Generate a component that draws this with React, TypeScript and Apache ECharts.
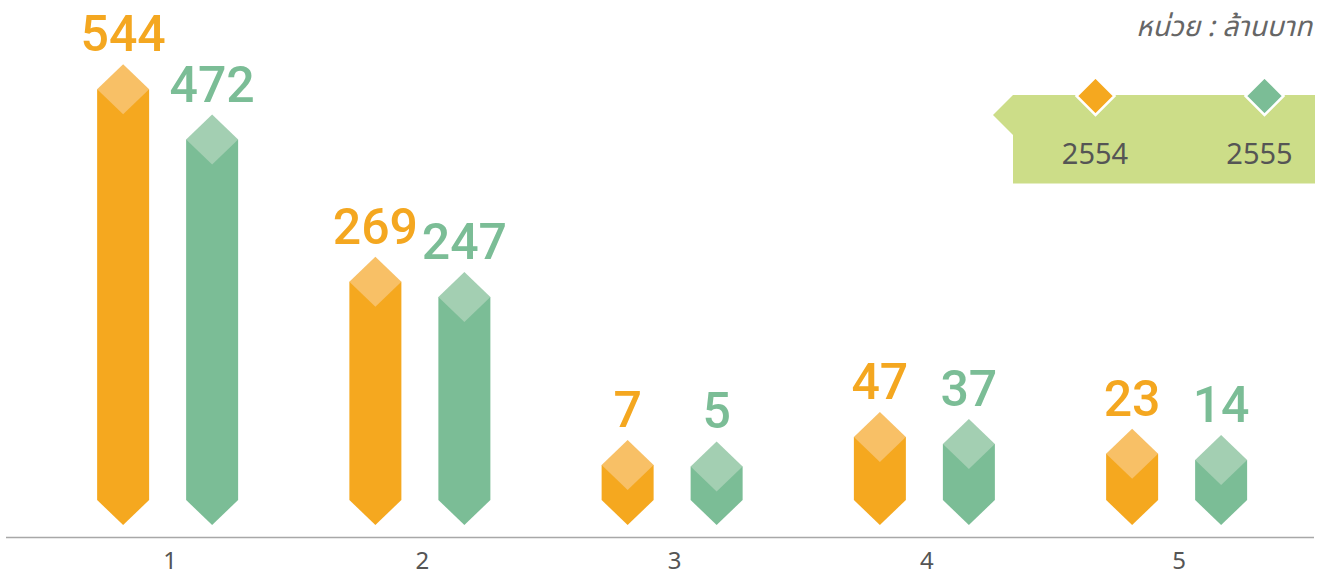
import React, { useEffect, useRef } from "react";
import * as echarts from "echarts";

const categories = ["1", "2", "3", "4", "5"];
const seriesNames = ["2554", "2555"];
const values2554 = [544, 269, 7, 47, 23];
const values2555 = [472, 247, 5, 37, 14];
const unitText = "หน่วย : ล้านบาท";

const Y_MIN = -43;
const Y_MAX = 600;

const BODY = ["#F5A81F", "#7BBD96"];
const TOP = ["#F8C066", "#A3CFB2"];
const LABEL = ["#F4A720", "#7BBD96"];

export default function App() {
  const ref = useRef<HTMLDivElement>(null);
  useEffect(() => {
    if (!ref.current) return;
    const chart = echarts.init(ref.current, undefined, { renderer: "svg" });
    const HW = 26;
    const OFF = 44.5;
    const renderItem = (params: any, api: any) => {
      const si = params.seriesIndex;
      const idx = api.value(0);
      const v = api.value(1);
      const p = api.coord([idx, v]);
      const base = api.coord([idx, Y_MIN]);
      const cx = p[0] + (si === 0 ? -OFF : OFF);
      const yTop = p[1];
      const yBase = base[1];
      return {
        type: "group",
        children: [
          {
            type: "polygon",
            shape: {
              points: [
                [cx - HW, yTop],
                [cx + HW, yTop],
                [cx + HW, yBase],
                [cx, yBase + 25],
                [cx - HW, yBase],
              ],
            },
            style: { fill: BODY[si] },
          },
          {
            type: "polygon",
            shape: {
              points: [
                [cx, yTop - 25],
                [cx + HW, yTop],
                [cx, yTop + 25],
                [cx - HW, yTop],
              ],
            },
            style: { fill: TOP[si] },
          },
          {
            type: "text",
            style: {
              text: String(v),
              x: cx,
              y: yTop - 25 - 30,
              align: "center",
              verticalAlign: "middle",
              fill: LABEL[si],
              font: "500 50px Roboto",
            },
          },
        ],
      };
    };
    const mk = (vals: number[], i: number) => ({
      type: "custom",
      name: seriesNames[i],
      renderItem,
      clip: false,
      data: vals.map((v, k) => [k, v]),
    });
    chart.setOption({
      animation: false,
      grid: { left: 41.5, right: 24.25, top: 50, bottom: 76 },
      xAxis: {
        type: "category",
        data: categories,
        axisLine: { show: false },
        axisTick: { show: false },
        axisLabel: {
          margin: 49.5,
          fontSize: 24,
          lineHeight: 20,
          padding: [0, 0, 0, 5],
          fontFamily: "Noto Sans",
          color: "#555555",
        },
      },
      yAxis: {
        type: "value",
        min: Y_MIN,
        max: Y_MAX,
        show: false,
        splitLine: { show: false },
      },
      series: [mk(values2554, 0), mk(values2555, 1)],
      graphic: [
        {
          type: "line",
          shape: { x1: 6, y1: 537.5, x2: 1314, y2: 537.5 },
          style: { stroke: "#A8A8A8", lineWidth: 1.6 },
          silent: true,
        },
        {
          type: "polygon",
          shape: {
            points: [
              [1013, 95],
              [1315, 95],
              [1315, 183.5],
              [1013, 183.5],
              [1013, 135],
              [993, 115],
            ],
          },
          style: { fill: "#CCDD88" },
        },
        {
          type: "polygon",
          shape: {
            points: [
              [1095.5, 77],
              [1114.5, 96],
              [1095.5, 115],
              [1076.5, 96],
            ],
          },
          style: { fill: BODY[0], stroke: "#ffffff", lineWidth: 2.5 },
        },
        {
          type: "polygon",
          shape: {
            points: [
              [1264.5, 77],
              [1283.5, 96],
              [1264.5, 115],
              [1245.5, 96],
            ],
          },
          style: { fill: BODY[1], stroke: "#ffffff", lineWidth: 2.5 },
        },
        {
          type: "text",
          style: {
            text: seriesNames[0],
            x: 1095,
            y: 152,
            align: "center",
            verticalAlign: "middle",
            fill: "#555555",
            font: "29px 'Noto Sans'",
          },
        },
        {
          type: "text",
          style: {
            text: seriesNames[1],
            x: 1259.5,
            y: 152,
            align: "center",
            verticalAlign: "middle",
            fill: "#555555",
            font: "29px 'Noto Sans'",
          },
        },
        {
          type: "text",
          style: {
            text: unitText,
            x: 1312,
            y: 27,
            align: "right",
            verticalAlign: "middle",
            fill: "#666666",
            font: "italic 28px 'Noto Sans Thai', 'Noto Sans', sans-serif",
          },
        },
      ],
    });
    return () => chart.dispose();
  }, []);
  return (
    <div
      ref={ref}
      style={{ position: "absolute", left: 0, top: 0, width: 1327, height: 576 }}
    />
  );
}
